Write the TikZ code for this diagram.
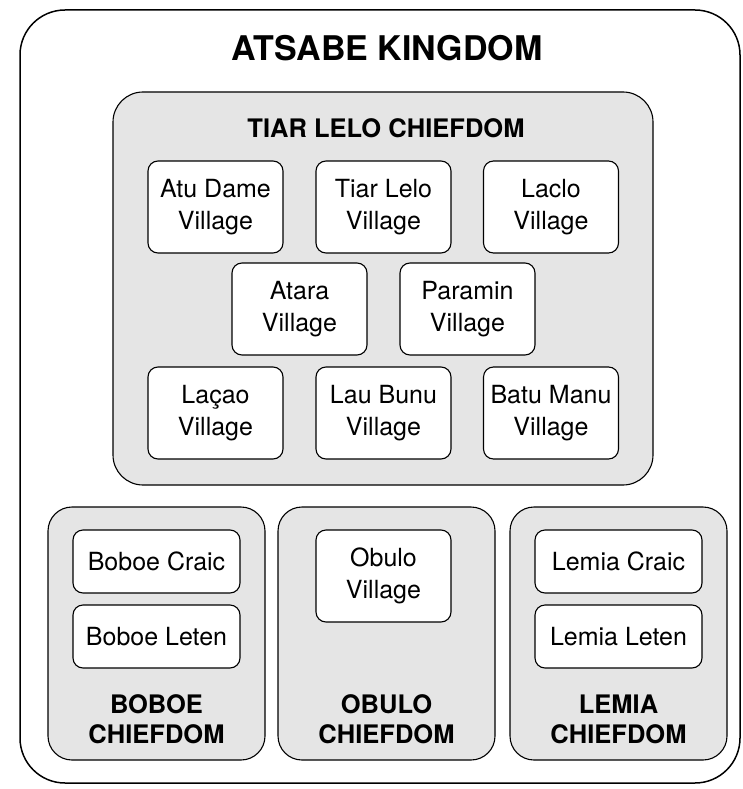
\documentclass[tikz,border=0pt]{standalone}
\usepackage{fontspec}
\setmainfont{TeX Gyre Heros}
\usepackage{tikz}
\newcommand{\villageFont}[0]{\fontsize{25}{32}\selectfont}
\newcommand{\chiefFont}[0]{\fontsize{25.5}{30}\selectfont\bfseries}
\begin{document}
\begin{tikzpicture}[x=1pt, y=-1pt]
  \tikzset{every node/.style={inner sep=0pt, outer sep=0pt, align=center},
    kingdom/.style={draw, line width=1.5pt, fill=white, rounded corners=45pt},
    chiefdom/.style={draw, line width=1.1pt, fill=black!10, rounded corners=24pt},
    village/.style={draw, line width=1.1pt, fill=white, rounded corners=10pt,
      minimum width=135pt, minimum height=92pt, font=\villageFont},
    hamlet/.style={village, minimum width=167pt, minimum height=63pt},
    chieflabel/.style={font=\chiefFont}}
  \useasboundingbox (0,0) rectangle (742,789);
  % kingdom
  \node[kingdom, minimum width=720pt, minimum height=773pt] (atsabe) at (380,396.5) {};
  \node[font=\fontsize{34}{40}\selectfont\bfseries] (atsabeLabel) at (387,48) {ATSABE KINGDOM};
  % tiar lelo chiefdom
  \node[chiefdom, rounded corners=30pt, minimum width=540pt, minimum height=393pt] (tiarLelo) at (383,288.5) {};
  \node[chieflabel] (tiarLeloLabel) at (386,128) {TIAR LELO CHIEFDOM};
  \node[village] (atuDame) at (215.5,207) {Atu Dame\\Village};
  \node[village] (tiarLeloV) at (383.5,207) {Tiar Lelo\\Village};
  \node[village] (laclo) at (551,207) {Laclo\\Village};
  \node[village] (atara) at (299.5,309) {Atara\\Village};
  \node[village] (paramin) at (467.5,309) {Paramin\\Village};
  \node[village] (lacao) at (215.5,413) {Laçao\\Village};
  \node[village] (lauBunu) at (383.5,413) {Lau Bunu\\Village};
  \node[village] (batuManu) at (551,413) {Batu Manu\\Village};
  % boboe chiefdom
  \node[chiefdom, minimum width=217pt, minimum height=253pt] (boboe) at (156.5,633.5) {};
  \node[hamlet] (boboeCraic) at (156.5,561.5) {Boboe Craic};
  \node[hamlet] (boboeLeten) at (156.5,636.5) {Boboe Leten};
  \node[chieflabel] (boboeLabel) at (156.5,719) {BOBOE\\CHIEFDOM};
  % obulo chiefdom
  \node[chiefdom, minimum width=217pt, minimum height=253pt] (obulo) at (386.5,633.5) {};
  \node[village] (obuloV) at (383.5,576) {Obulo\\Village};
  \node[chieflabel] (obuloLabel) at (386.5,719) {OBULO\\CHIEFDOM};
  % lemia chiefdom
  \node[chiefdom, minimum width=217pt, minimum height=253pt] (lemia) at (618.5,633.5) {};
  \node[hamlet] (lemiaCraic) at (618.5,561.5) {Lemia Craic};
  \node[hamlet] (lemiaLeten) at (618.5,636.5) {Lemia Leten};
  \node[chieflabel] (lemiaLabel) at (618.5,719) {LEMIA\\CHIEFDOM};
\end{tikzpicture}
\end{document}
